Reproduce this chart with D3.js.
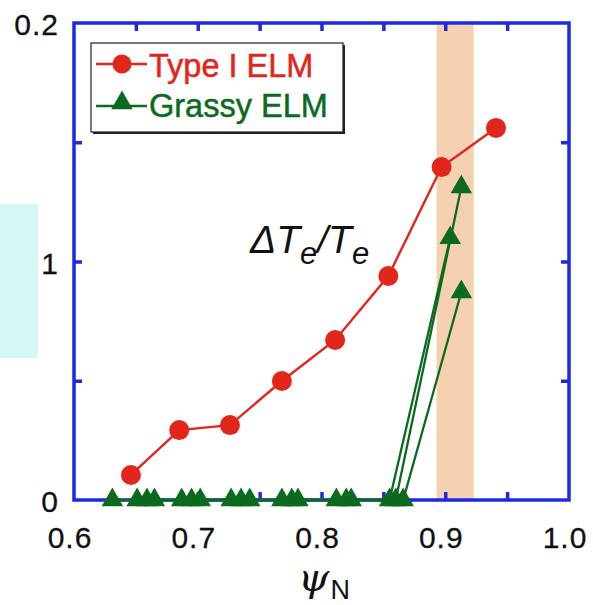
<!DOCTYPE html>
<html>
<head>
<meta charset="utf-8">
<script src="https://cdn.jsdelivr.net/npm/d3@7"></script>
<style>
  html, body { margin: 0; padding: 0; background: #fff; }
  svg { display: block; }
</style>
</head>
<body>
<svg id="chart" width="593" height="605"></svg>
<script>
// Type I ELM profile
const typeIX = [0.646, 0.685, 0.726, 0.768, 0.811, 0.854, 0.897, 0.941];
const typeIY = [0.0105, 0.0293, 0.0314, 0.0499, 0.0671, 0.0939, 0.1396, 0.156];

// Grassy ELM profiles (three shots)
const grassyAX = [0.631, 0.651, 0.687, 0.727, 0.768, 0.812, 0.860, 0.913];
const grassyAY = [0, 0, 0, 0, 0, 0, 0, 0.1312];
const grassyBX = [0.659, 0.695, 0.735, 0.776, 0.820, 0.855, 0.904];
const grassyBY = [0, 0, 0, 0, 0, 0, 0.1099];
const grassyCX = [0.665, 0.702, 0.742, 0.781, 0.824, 0.866, 0.913];
const grassyCY = [0, 0, 0, 0, 0, 0, 0.0872];

// Shaded pedestal region
const bandRange = [0.893, 0.923];

// Axes
const xDomain = [0.6, 1.0];
const yDomain = [0, 0.2];
const xMinorTicks = [0.65, 0.7, 0.75, 0.8, 0.85, 0.9, 0.95];
const yMinorTicks = [0.05, 0.1, 0.15];
const xLabelValues = [0.6, 0.7, 0.8, 0.9, 1.0];
const xLabels = ["0.6", "0.7", "0.8", "0.9", "1.0"];
const yLabelValues = [0, 0.1, 0.2];
const yLabels = ["0", "1", "0.2"];

const legendNames = ["Type I ELM", "Grassy ELM"];

const RED = "#e2261b";
const GREEN = "#0c6a1f";
const BLUE = "#1c2ae2";
const SANS = "Liberation Sans, Arial, sans-serif";

const svg = d3.select("#chart");
const pL = 74, pR = 569, pT = 23, pB = 500;

const x = d3.scaleLinear().domain(xDomain).range([pL, pR]);
const y = d3.scaleLinear().domain(yDomain).range([pB, pT]);

// Side panel
svg.append("rect").attr("x", 0).attr("y", 204).attr("width", 38).attr("height", 154)
  .attr("fill", "#d3f8f6");

// Band
svg.append("rect")
  .attr("x", x(bandRange[0])).attr("y", pT)
  .attr("width", x(bandRange[1]) - x(bandRange[0]))
  .attr("height", pB - pT)
  .attr("fill", "#f6d1b1");

// Frame + ticks
const tickLen = 8;
const axG = svg.append("g");
axG.append("g").attr("transform", `translate(0,${pB})`)
  .call(d3.axisBottom(x).tickValues(xMinorTicks).tickSizeInner(-tickLen).tickSizeOuter(0).tickFormat(""));
axG.append("g").attr("transform", `translate(0,${pT})`)
  .call(d3.axisTop(x).tickValues(xMinorTicks).tickSizeInner(-tickLen).tickSizeOuter(0).tickFormat(""));
axG.append("g").attr("transform", `translate(${pL},0)`)
  .call(d3.axisLeft(y).tickValues(yMinorTicks).tickSizeInner(-tickLen).tickSizeOuter(0).tickFormat(""));
axG.append("g").attr("transform", `translate(${pR},0)`)
  .call(d3.axisRight(y).tickValues(yMinorTicks).tickSizeInner(-tickLen).tickSizeOuter(0).tickFormat(""));
axG.selectAll(".domain").remove();
axG.selectAll(".tick line").attr("stroke", BLUE).attr("stroke-width", 3.5);
axG.append("rect").attr("x", pL).attr("y", pT)
  .attr("width", pR - pL).attr("height", pB - pT)
  .attr("fill", "none").attr("stroke", BLUE).attr("stroke-width", 3.5);

// Tick labels
svg.append("g").selectAll("text").data(xLabelValues).join("text")
  .attr("x", d => x(d) - 4).attr("y", 548)
  .attr("text-anchor", "middle")
  .attr("font-family", SANS)
  .attr("font-size", 30).attr("letter-spacing", 1)
  .attr("fill", "#111").attr("stroke", "#111").attr("stroke-width", 0.3)
  .text((d, i) => xLabels[i]);
svg.append("g").selectAll("text").data(yLabelValues).join("text")
  .attr("x", 59).attr("y", d => y(d) + 12)
  .attr("text-anchor", "end")
  .attr("font-family", SANS)
  .attr("font-size", 30).attr("letter-spacing", 1)
  .attr("fill", "#111").attr("stroke", "#111").attr("stroke-width", 0.3)
  .text((d, i) => yLabels[i]);

// Axis title psi_N
const xt = svg.append("text").attr("x", 298).attr("y", 591)
  .attr("fill", "#111");
xt.append("tspan").attr("font-family", "DejaVu Serif, serif")
  .attr("font-style", "italic").attr("font-size", 40).text("ψ");
xt.append("tspan").attr("font-family", SANS)
  .attr("font-size", 27).attr("dy", 8).attr("dx", 1).text("N");

// Series
const line = d3.line().x(d => x(d[0])).y(d => y(d[1]));
const grassy = [
  d3.zip(grassyAX, grassyAY),
  d3.zip(grassyBX, grassyBY),
  d3.zip(grassyCX, grassyCY)
];
const typeI = d3.zip(typeIX, typeIY);

const tri = d3.symbol().type(d3.symbolTriangle).size(200);

grassy.forEach(s => {
  svg.append("path").datum(s).attr("d", line)
    .attr("fill", "none").attr("stroke", GREEN).attr("stroke-width", 2.3);
});
grassy.forEach(s => {
  svg.append("g").selectAll("path").data(s).join("path")
    .attr("d", tri)
    .attr("transform", d => `translate(${x(d[0])},${y(d[1])})`)
    .attr("fill", GREEN);
});

svg.append("path").datum(typeI).attr("d", line)
  .attr("fill", "none").attr("stroke", RED).attr("stroke-width", 2.4);
svg.append("g").selectAll("circle").data(typeI).join("circle")
  .attr("cx", d => x(d[0])).attr("cy", d => y(d[1])).attr("r", 10)
  .attr("fill", RED);

// Annotation
const ann = svg.append("text").attr("x", 250).attr("y", 253)
  .attr("font-family", SANS)
  .attr("font-style", "italic").attr("font-size", 39).attr("fill", "#111");
ann.append("tspan").text("ΔT");
ann.append("tspan").attr("font-size", 31).attr("dy", 11).text("e");
ann.append("tspan").attr("dy", -11).text("/T");
ann.append("tspan").attr("font-size", 31).attr("dy", 11).text("e");

// Legend
const lg = svg.append("g");
lg.append("rect").attr("x", 93).attr("y", 45).attr("width", 252).attr("height", 89).attr("fill", "#222");
lg.append("rect").attr("x", 91).attr("y", 43).attr("width", 252).attr("height", 89)
  .attr("fill", "#fff").attr("stroke", "#222").attr("stroke-width", 1.2);

const legendRows = [
  { name: legendNames[0], color: RED, ly: 64, ty: 77, mark: "circle" },
  { name: legendNames[1], color: GREEN, ly: 106, ty: 117, mark: "tri" }
];
legendRows.forEach(r => {
  lg.append("line").attr("x1", 96).attr("x2", 147).attr("y1", r.ly).attr("y2", r.ly)
    .attr("stroke", r.color).attr("stroke-width", 2.6);
  if (r.mark === "circle") {
    lg.append("circle").attr("cx", 122).attr("cy", r.ly).attr("r", 9.5).attr("fill", r.color);
  } else {
    lg.append("path").attr("d", tri).attr("transform", `translate(122,${r.ly - 3})`).attr("fill", r.color);
  }
  lg.append("text").attr("x", 149).attr("y", r.ty)
    .attr("font-family", SANS)
    .attr("font-size", 32.5).attr("fill", r.color)
    .attr("stroke", r.color).attr("stroke-width", 0.5)
    .text(r.name);
});
</script>
</body>
</html>
